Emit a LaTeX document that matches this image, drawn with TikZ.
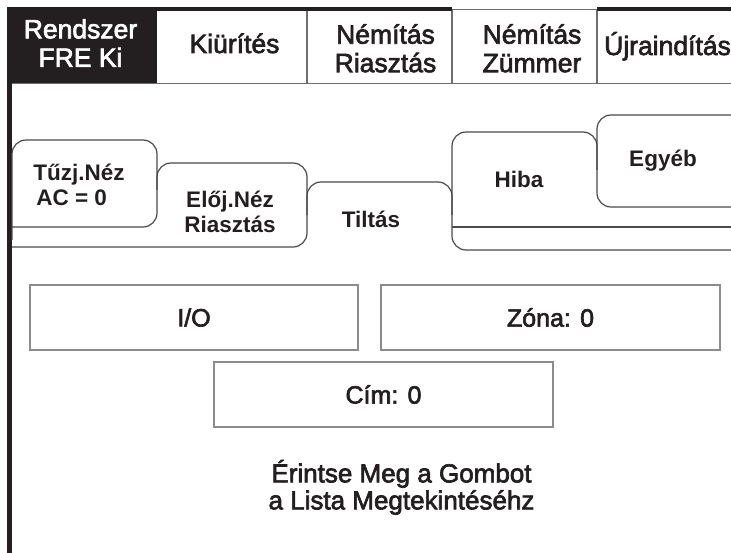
\documentclass[tikz,border=0pt]{standalone}
\usepackage{fontspec}
\setmainfont{Liberation Sans}
\newfontfamily\medfont{Liberation Sans}[FakeBold=2.5]
\definecolor{ink}{HTML}{231F20}
\definecolor{tabedge}{HTML}{4A4A4A}
\definecolor{celledge}{HTML}{6E6E6E}
\definecolor{boxedge}{HTML}{8C8C8C}
\begin{document}
\begin{tikzpicture}[x=1pt,y=-1pt,
  toptxt/.style={font=\medfont\fontsize{26.5}{28.5}\selectfont, text=ink, inner sep=0pt, align=center},
  tabtxt/.style={font=\fontsize{22.5}{25}\selectfont\bfseries, text=ink, inner sep=0pt, align=center},
  boxtxt/.style={font=\medfont\fontsize{25}{28}\selectfont, text=ink},
  infobox/.style={draw=boxedge, line width=1.6pt, minimum height=65pt, inner sep=0pt},
  celline/.style={draw=celledge, line width=1.3pt},
  tabline/.style={draw=tabedge, line width=1.2pt, rounded corners=14pt},
  heavy/.style={draw=ink, line width=4.6pt}
]
\useasboundingbox (0,0) rectangle (731,553);
\begin{scope}
\clip (0,0) rectangle (731,553);

% ---- top button row ----
\fill[ink] (7,7) rectangle (157,83);
\draw[celline] (12,83.5) -- (731,83.5);
\draw[celline] (307,9) -- (307,83.5);
\draw[celline] (452,9) -- (452,83.5);
\draw[celline] (597,9) -- (597,83.5);
\draw[celline] (452,9.6) -- (597,9.6);
\draw[heavy] (7,9) -- (452,9);
\draw[heavy] (597,9) -- (731,9);
\draw[draw=ink, line width=5.5pt] (9.5,7) -- (9.5,553);

\node[toptxt, text=white] (rendszer) at (80.5,43) {Rendszer\\FRE Ki};
\node[toptxt, anchor=base] (kiurites) at (234.5,53) {Kiürítés};
\node[toptxt] (nemriaszt) at (385.5,48.3) {Némítás\\Riasztás};
\node[toptxt] (nemzummer) at (532,48.3) {Némítás\\Zümmer};
\node[toptxt, anchor=base west] (ujra) at (604,55) {Újraindítás};

% ---- folder tabs ----
\draw[tabline] (12,240) -- (12,140) -- (157,140) -- (157,227) -- (12,227);
\draw[tabline] (157,190) -- (157,163) -- (307,163) -- (307,247) -- (12,247);
\draw[tabline] (307,215) -- (307,182) -- (452,182) -- (452,215);
\draw[tabline] (597,170) -- (597,132) -- (452,132) -- (452,250) -- (745,250);
\draw[tabline] (760,115) -- (597,115) -- (597,207) -- (760,207);
\draw[draw=tabedge, line width=1.5pt] (452,227) -- (731,227);

\node[tabtxt, align=left] (tuzj) at (79,185) {Tűzj.Néz\\\hspace*{3pt}AC = 0};
\node[tabtxt] (eloj) at (230,212) {Előj.Néz\\Riasztás};
\node[tabtxt, anchor=base] (tiltas) at (371,228) {Tiltás};
\node[tabtxt, anchor=base] (hiba) at (519,188) {Hiba};
\node[tabtxt, anchor=base] (egyeb) at (663,167) {Egyéb};

% ---- info boxes ----
\node[infobox, minimum width=328pt, boxtxt] (io) at (194,317.5) {I/O};
\node[infobox, minimum width=339pt, boxtxt] (zona) at (550.5,317.5) {Zóna: 0};
\node[infobox, minimum width=339pt, boxtxt] (cim) at (383.5,394.5) {Cím: 0};

\node[font=\medfont\fontsize{26}{27}\selectfont, text=ink, align=center, inner sep=0pt] (hint) at (401.5,487.3) {Érintse Meg a Gombot\\a Lista Megtekintéséhz};
\end{scope}
\end{tikzpicture}
\end{document}
